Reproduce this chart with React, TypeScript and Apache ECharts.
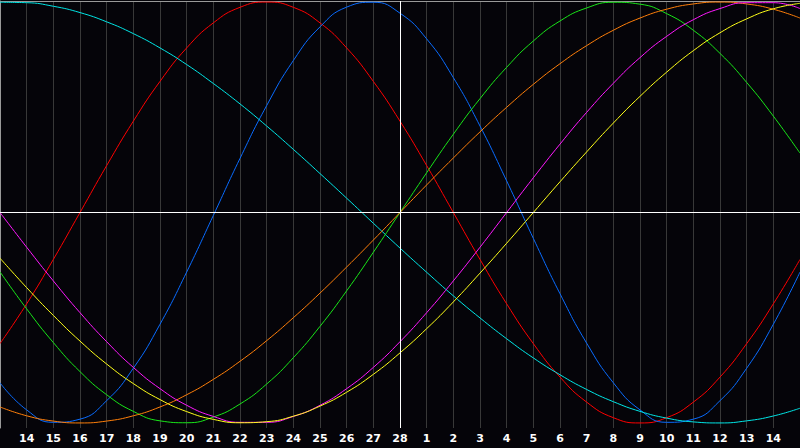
import React, { useEffect, useRef } from 'react';
import * as echarts from 'echarts';

// day labels, from the 13th of the previous month to the 15th of the next
const days = [
	'13', '14', '15', '16', '17', '18', '19', '20', '21', '22', '23', '24', '25', '26', '27', '28',
	'1', '2', '3', '4', '5', '6', '7', '8', '9', '10', '11', '12', '13', '14', '15'
];

const physical = [-0.809, -0.938, -0.997, -0.982, -0.894, -0.74, -0.531, -0.283, -0.014, 0.257, 0.508, 0.722, 0.882, 0.976, 0.999, 0.947, 0.825, 0.641, 0.411, 0.15, -0.123, -0.386, -0.621, -0.809, -0.938, -0.997, -0.982, -0.894, -0.74, -0.531, -0.283];
const emotional = [-0.623, -0.434, -0.223, 0, 0.223, 0.434, 0.623, 0.782, 0.901, 0.975, 1, 0.975, 0.901, 0.782, 0.623, 0.434, 0.223, 0, -0.223, -0.434, -0.623, -0.782, -0.901, -0.975, -1, -0.975, -0.901, -0.782, -0.623, -0.434, -0.223];
const intellectual = [-0.282, -0.458, -0.618, -0.756, -0.866, -0.945, -0.99, -0.999, -0.972, -0.91, -0.815, -0.69, -0.541, -0.372, -0.189, 0, 0.189, 0.372, 0.541, 0.69, 0.815, 0.91, 0.972, 0.999, 0.99, 0.945, 0.866, 0.756, 0.618, 0.458, 0.282];
const intuitive = [0, -0.165, -0.325, -0.476, -0.614, -0.736, -0.837, -0.916, -0.969, -0.997, -0.997, -0.969, -0.916, -0.837, -0.736, -0.614, -0.476, -0.325, -0.165, 0, 0.165, 0.325, 0.476, 0.614, 0.736, 0.837, 0.916, 0.969, 0.997, 0.997, 0.969];
const aesthetic = [-0.217, -0.357, -0.489, -0.611, -0.72, -0.813, -0.889, -0.946, -0.983, -0.999, -0.994, -0.968, -0.92, -0.854, -0.769, -0.667, -0.552, -0.425, -0.288, -0.146, 0, 0.146, 0.288, 0.425, 0.552, 0.667, 0.769, 0.854, 0.92, 0.968, 0.994];
const awareness = [-0.924, -0.966, -0.991, -1, -0.991, -0.966, -0.924, -0.866, -0.793, -0.707, -0.609, -0.5, -0.383, -0.259, -0.131, 0, 0.131, 0.259, 0.383, 0.5, 0.609, 0.707, 0.793, 0.866, 0.924, 0.966, 0.991, 1, 0.991, 0.966, 0.924];
const spiritual = [0.999, 0.997, 0.98, 0.95, 0.906, 0.85, 0.782, 0.703, 0.613, 0.516, 0.411, 0.3, 0.185, 0.068, -0.051, -0.169, -0.284, -0.396, -0.501, -0.6, -0.691, -0.771, -0.841, -0.899, -0.945, -0.977, -0.995, -1, -0.99, -0.967, -0.93];

const today = '28';

const App: React.FC = () => {
	const chartRef = useRef<HTMLDivElement>(null);

	useEffect(() => {
		if (!chartRef.current) return;
		document.body.style.margin = '0';
		const chart = echarts.init(chartRef.current, undefined, { renderer: 'svg' });

		const curve = (name: string, data: number[], color: string) => ({
			name,
			type: 'line' as const,
			data,
			smooth: 0.5,
			symbol: 'none',
			silent: true,
			lineStyle: { color, width: 1 }
		});

		const option: any = {
			animation: false,
			backgroundColor: '#050409',
			grid: { left: 0, right: 0, top: 1, height: 427, containLabel: false, outerBoundsMode: 'none' },
			xAxis: [
				{
					type: 'category',
					data: days,
					boundaryGap: false,
					axisLine: { lineStyle: { color: '#999', width: 1 } },
					axisTick: { show: false },
					axisLabel: {
						color: '#fff',
						fontFamily: 'DejaVu Sans',
						fontWeight: 'bold',
						fontSize: 11,
						margin: 5,
						interval: 0,
						formatter: (value: string, index: number) =>
							index === 0 || index === days.length - 1 ? '' : value
					},
					splitLine: { show: true, lineStyle: { color: '#383838', width: 1 } }
				},
				{
					type: 'category',
					data: days,
					position: 'top',
					boundaryGap: false,
					axisLine: { lineStyle: { color: '#999', width: 1 } },
					axisTick: { show: false },
					axisLabel: { show: false },
					splitLine: { show: false }
				}
			],
			yAxis: {
				type: 'value',
				min: -1.024,
				max: 1.005,
				axisLine: { show: true, lineStyle: { color: '#999', width: 1 } },
				axisTick: { show: false },
				axisLabel: { show: false },
				splitLine: { show: false }
			},
			series: [
				{
					...curve('Emotional', emotional, '#ff0000'),
					markLine: {
						silent: true,
						symbol: 'none',
						label: { show: false },
						lineStyle: { color: '#ffffff', width: 1, type: 'solid' },
						data: [{ xAxis: today }, { yAxis: 0 }]
					}
				},
				curve('Physical', physical, '#0a6cff'),
				curve('Spiritual', spiritual, '#00e6e6'),
				curve('Intellectual', intellectual, '#19e619'),
				curve('Awareness', awareness, '#ff7f0a'),
				curve('Intuitive', intuitive, '#ff19ff'),
				curve('Aesthetic', aesthetic, '#ffff19')
			]
		};

		chart.setOption(option);

		return () => {
			chart.dispose();
		};
	}, []);

	return (
		<div
			ref={chartRef}
			style={{ position: 'fixed', left: 0, top: 0, width: '800px', height: '448px', background: '#050409' }}
		/>
	);
};

export default App;
